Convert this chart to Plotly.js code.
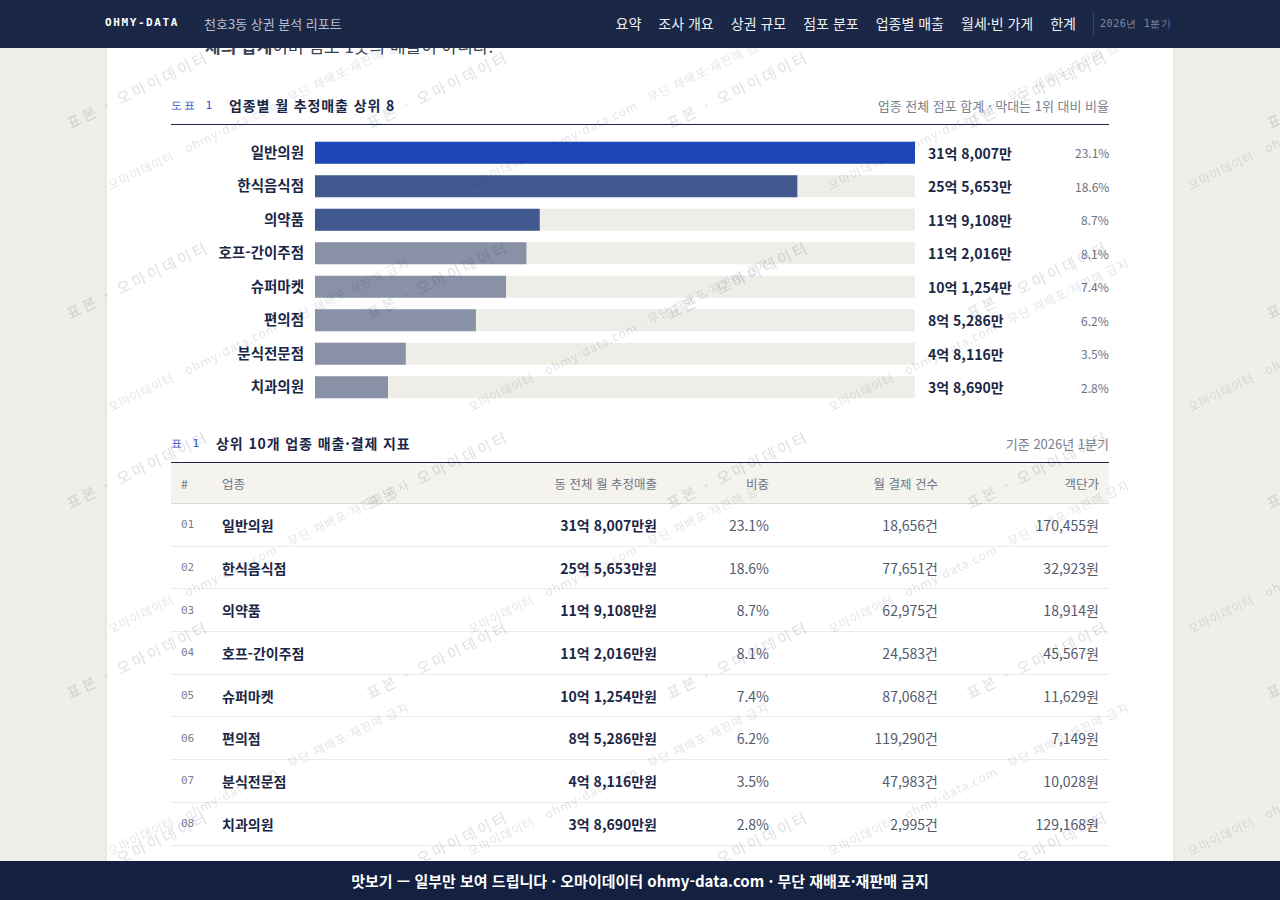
<!DOCTYPE html>
<html lang="ko">
<head>
<meta charset="utf-8">
<script src="https://cdn.plot.ly/plotly-3.0.1.min.js"></script>
<style>
  html,body{margin:0;padding:0;}
  body{width:1280px;height:900px;overflow:hidden;background:#efeee9;font-family:"Noto Sans CJK KR","Noto Sans",sans-serif;position:relative;}
  .card{position:absolute;left:107px;top:0;width:1066px;height:900px;background:#fff;box-shadow:0 0 6px rgba(0,0,0,0.07);}
  .nav{position:fixed;left:0;top:0;width:1280px;height:48px;background:#1b2746;z-index:20;}
  .nav .logo{position:absolute;left:105px;top:16px;font-family:"DejaVu Sans Mono",monospace;font-weight:bold;font-size:11px;letter-spacing:1.6px;color:#fff;}
  .nav .sub{position:absolute;left:204px;top:14px;font-size:13px;color:#b9c0d0;}
  .nav .menu{position:absolute;right:204px;top:13px;font-size:14px;color:#eef0f5;white-space:nowrap;}
  .nav .menu span{margin-left:17px;}
  .nav .sep{position:absolute;left:1093px;top:13px;width:1px;height:22px;background:#3b4767;}
  .nav .q{position:absolute;left:1100px;top:17px;font-family:"DejaVu Sans Mono",monospace;font-size:10px;letter-spacing:0.6px;color:#7f89a3;}
  .foot{position:fixed;left:0;top:861px;width:1280px;height:39px;background:#142040;z-index:20;color:#fff;font-weight:bold;font-size:15px;text-align:center;line-height:39px;}
  .intro{position:absolute;left:205px;top:33px;font-size:17px;color:#3a4150;white-space:nowrap;}
  .hdr{position:absolute;left:171px;width:938px;height:29px;border-bottom:1px solid #1b2746;}
  .hdr .tag{position:absolute;left:0;top:3px;font-family:"DejaVu Sans Mono",monospace;font-size:11px;color:#2f55c9;letter-spacing:2px;}
  .hdr .ttl{position:absolute;top:0;font-size:14px;letter-spacing:0.9px;font-weight:bold;color:#1b2746;}
  .hdr .rt{position:absolute;right:0;top:1px;font-size:13px;color:#7a8090;}
  #chart{position:absolute;left:171px;top:128px;width:938px;height:284px;}
  table{position:absolute;left:171px;top:463px;width:938px;border-collapse:collapse;table-layout:fixed;}
  th{background:#f4f3ee;font-weight:normal;font-size:12.5px;color:#6f7585;height:40px;border-bottom:1px solid #dcdbd4;padding:0 10px;}
  td{height:41.7px;border-bottom:1px solid #ecebe6;padding:0 10px;font-size:14px;color:#525b6e;}
  .l{text-align:left}.r{text-align:right}
  td.no{font-family:"DejaVu Sans Mono",monospace;font-size:11px;color:#7a8090;}
  td.nm,td.sl{font-weight:bold;color:#1b2746;}
  #wm{position:fixed;left:0;top:0;width:1280px;height:900px;z-index:10;pointer-events:none;overflow:hidden;}
  #wm div{position:absolute;white-space:nowrap;transform-origin:0 100%;transform:rotate(-26deg);color:rgba(40,50,80,0.13);}
  #wm div.a{font-size:15px;letter-spacing:3px;font-weight:500;}
  #wm div.b{font-size:12px;letter-spacing:1px;}
</style>
</head>
<body>
<div class="card"></div>
<div class="intro"><b>체의 합계</b>이며 점포 1곳의 매출이 아니다.</div>

<div class="hdr" style="top:95px;"><span class="tag">도표 1</span><span class="ttl" style="left:58px;">업종별 월 추정매출 상위 8</span><span class="rt">업종 전체 점포 합계 · 막대는 1위 대비 비율</span></div>
<div id="chart"></div>

<div class="hdr" style="top:433px;"><span class="tag">표 1</span><span class="ttl" style="left:45px;">상위 10개 업종 매출·결제 지표</span><span class="rt">기준 2026년 1분기</span></div>
<table id="tbl"></table>

<div id="wm"></div>

<div class="nav">
  <span class="logo">OHMY-DATA</span>
  <span class="sub">천호3동 상권 분석 리포트</span>
  <span class="menu" id="menu"></span>
  <span class="sep"></span>
  <span class="q">2026년 1분기</span>
</div>
<div class="foot">맛보기 — 일부만 보여 드립니다 · 오마이데이터 ohmy-data.com · 무단 재배포·재판매 금지</div>

<script>
// ---- data ----
const categories = ["일반의원","한식음식점","의약품","호프-간이주점","슈퍼마켓","편의점","분식전문점","치과의원"];
const salesMan = [318007, 255653, 119108, 112016, 101254, 85286, 48116, 38690]; // 만원
const sharePct = [23.1, 18.6, 8.7, 8.1, 7.4, 6.2, 3.5, 2.8];
const payCount = [18656, 77651, 62975, 24583, 87068, 119290, 47983, 2995];
const unitPrice = [170455, 32923, 18914, 45567, 11629, 7149, 10028, 129168];
const menuItems = ["요약","조사 개요","상권 규모","점포 분포","업종별 매출","월세·빈 가게","한계"];
const tableHeaders = ["#","업종","동 전체 월 추정매출","비중","월 결제 건수","객단가"];
const barColors = ["#1d46b8","#42598f","#42598f","#8891a5","#8891a5","#8891a5","#8891a5","#8891a5"];
const trackColor = "#eeede8";

function fmtEok(v){
  const eok = Math.floor(v/10000), man = v%10000;
  return (eok>0? eok+"억 ":"") + man.toLocaleString("en-US") + "만";
}

document.getElementById("menu").innerHTML = menuItems.map(m=>"<span>"+m+"</span>").join("");

// ---- chart ----
const maxV = Math.max(...salesMan);
const track = {type:"bar",orientation:"h",y:categories,x:categories.map(()=>maxV),
  marker:{color:trackColor},width:0.66,hoverinfo:"skip"};
const bars = {type:"bar",orientation:"h",y:categories,x:salesMan,
  marker:{color:barColors},width:0.66,hoverinfo:"skip"};
const ann = [];
categories.forEach((c,i)=>{
  ann.push({xref:"paper",yref:"y",x:1.018,y:c,text:fmtEok(salesMan[i]),xanchor:"left",yanchor:"middle",showarrow:false,
    font:{family:"Noto Sans CJK KR",size:14,color:"#1b2746",weight:"bold"}});
  ann.push({xref:"paper",yref:"y",x:(1111-315)/600,y:c,text:sharePct[i].toFixed(1)+"%",xanchor:"right",yanchor:"middle",showarrow:false,
    font:{family:"Noto Sans CJK KR",size:12,color:"#6b7283"}});
});
Plotly.newPlot("chart",[track,bars],{
  width:938,height:284,margin:{l:144,r:194,t:8,b:8},
  barmode:"overlay",showlegend:false,
  paper_bgcolor:"rgba(0,0,0,0)",plot_bgcolor:"rgba(0,0,0,0)",
  xaxis:{range:[0,maxV],visible:false,fixedrange:true},
  yaxis:{type:"category",autorange:"reversed",showgrid:false,zeroline:false,showline:false,ticks:"",
    ticklabelstandoff:10,tickfont:{family:"Noto Sans CJK KR",size:14.5,color:"#1b2746",weight:"bold"}},
  annotations:ann
},{staticPlot:true,displayModeBar:false});

// ---- table ----
const widths=[41,228,227,112,169,161];
const aligns=["l","l","r","r","r","r"];
let h="<colgroup>"+widths.map(w=>'<col style="width:'+w+'px">').join("")+"</colgroup><thead><tr>";
tableHeaders.forEach((t,i)=>{h+='<th class="'+aligns[i]+'">'+t+"</th>";});
h+="</tr></thead><tbody>";
categories.forEach((c,i)=>{
  h+="<tr>"+
   '<td class="l no">'+String(i+1).padStart(2,"0")+"</td>"+
   '<td class="l nm">'+c+"</td>"+
   '<td class="r sl">'+fmtEok(salesMan[i])+"원</td>"+
   '<td class="r">'+sharePct[i].toFixed(1)+"%</td>"+
   '<td class="r">'+payCount[i].toLocaleString("en-US")+"건</td>"+
   '<td class="r">'+unitPrice[i].toLocaleString("en-US")+"원</td></tr>";
});
h+="</tbody>";
document.getElementById("tbl").innerHTML=h;

// ---- watermark ----
const wm=document.getElementById("wm");
let w="";
for(let j=0;j<6;j++){for(let i=0;i<5;i++){
  w+='<div class="a" style="left:'+(72+300*i)+'px;top:'+(112+190*j)+'px;">표본 · 오마이데이터</div>';
}}
for(let j=0;j<5;j++){for(let i=0;i<4;i++){
  w+='<div class="b" style="left:'+(112+360*i)+'px;top:'+(176+222*j)+'px;">오마이데이터 · ohmy-data.com · 무단 재배포·재판매 금지</div>';
}}
wm.innerHTML=w;
</script>
</body>
</html>
